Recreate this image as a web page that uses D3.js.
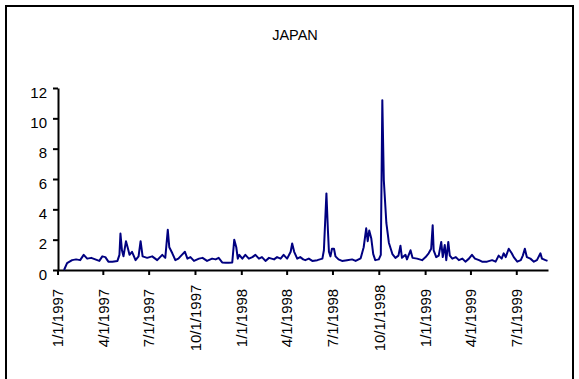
<!DOCTYPE html>
<html>
<head>
<meta charset="utf-8">
<script src="https://cdn.jsdelivr.net/npm/d3@7"></script>
<style>
  body { margin: 0; background: #fff; }
  svg { display: block; }
  text { font-family: "Liberation Sans", Arial, sans-serif; fill: #000; }
</style>
</head>
<body>
<svg id="chart" width="579" height="379"></svg>
<script>
const title = 'JAPAN';

const dates = [
    '1997-01-14', '1997-01-20', '1997-01-30', '1997-02-07', '1997-02-15', '1997-02-22', '1997-03-01', '1997-03-09',
    '1997-03-17', '1997-03-25', '1997-03-31', '1997-04-06', '1997-04-12', '1997-04-20', '1997-04-30', '1997-05-04',
    '1997-05-06', '1997-05-09', '1997-05-12', '1997-05-17', '1997-05-21', '1997-05-24', '1997-05-29', '1997-06-05',
    '1997-06-11', '1997-06-15', '1997-06-19', '1997-06-28', '1997-07-08', '1997-07-18', '1997-07-28', '1997-08-03',
    '1997-08-08', '1997-08-11', '1997-08-17', '1997-08-23', '1997-08-29', '1997-09-05', '1997-09-11', '1997-09-16',
    '1997-09-22', '1997-09-29', '1997-10-09', '1997-10-16', '1997-10-25', '1997-11-04', '1997-11-11', '1997-11-17',
    '1997-11-24', '1997-12-01', '1997-12-07', '1997-12-14', '1997-12-18', '1997-12-22', '1997-12-25', '1997-12-28',
    '1998-01-03', '1998-01-09', '1998-01-16', '1998-01-23', '1998-01-29', '1998-02-05', '1998-02-11', '1998-02-18',
    '1998-02-25', '1998-03-07', '1998-03-13', '1998-03-20', '1998-03-26', '1998-04-02', '1998-04-09', '1998-04-12',
    '1998-04-16', '1998-04-22', '1998-04-28', '1998-05-04', '1998-05-08', '1998-05-15', '1998-05-22', '1998-06-01',
    '1998-06-11', '1998-06-14', '1998-06-19', '1998-06-22', '1998-06-24', '1998-06-27', '1998-06-30', '1998-07-04',
    '1998-07-07', '1998-07-13', '1998-07-20', '1998-07-30', '1998-08-09', '1998-08-16', '1998-08-26', '1998-09-01',
    '1998-09-06', '1998-09-09', '1998-09-12', '1998-09-16', '1998-09-20', '1998-09-24', '1998-10-01', '1998-10-05',
    '1998-10-08', '1998-10-11', '1998-10-16', '1998-10-21', '1998-10-28', '1998-11-03', '1998-11-09', '1998-11-13',
    '1998-11-16', '1998-11-23', '1998-11-26', '1998-12-03', '1998-12-07', '1998-12-16', '1998-12-26', '1999-01-02',
    '1999-01-08', '1999-01-13', '1999-01-16', '1999-01-18', '1999-01-23', '1999-01-28', '1999-02-02', '1999-02-05',
    '1999-02-09', '1999-02-12', '1999-02-16', '1999-02-19', '1999-02-24', '1999-03-03', '1999-03-09', '1999-03-16',
    '1999-03-22', '1999-03-29', '1999-04-04', '1999-04-10', '1999-04-18', '1999-04-24', '1999-05-04', '1999-05-14',
    '1999-05-21', '1999-05-27', '1999-06-02', '1999-06-06', '1999-06-10', '1999-06-16', '1999-06-22', '1999-06-26',
    '1999-07-03', '1999-07-10', '1999-07-14', '1999-07-18', '1999-07-22', '1999-07-29', '1999-08-05', '1999-08-11',
    '1999-08-18', '1999-08-21', '1999-08-28', '1999-09-01'
];

const values = [
    0.0, 0.45, 0.65, 0.7, 0.65, 1.0, 0.75, 0.8,
    0.7, 0.6, 0.9, 0.85, 0.55, 0.55, 0.6, 1.0,
    2.4, 1.3, 0.9, 1.9, 1.4, 1.0, 1.2, 0.65,
    0.9, 1.9, 0.9, 0.8, 0.9, 0.65, 1.0, 0.8,
    2.65, 1.5, 1.1, 0.65, 0.75, 1.0, 1.2, 0.75,
    0.85, 0.6, 0.75, 0.8, 0.6, 0.75, 0.7, 0.8,
    0.5, 0.48, 0.48, 0.5, 2.0, 1.5, 0.75, 1.0,
    0.75, 1.0, 0.75, 0.85, 1.0, 0.75, 0.85, 0.6,
    0.8, 0.7, 0.85, 0.75, 1.0, 0.75, 1.2, 1.75,
    1.2, 0.75, 0.85, 0.7, 0.65, 0.75, 0.6, 0.65,
    0.75, 1.3, 5.05, 2.6, 1.2, 0.9, 1.4, 1.4,
    0.9, 0.7, 0.6, 0.65, 0.7, 0.6, 0.77, 1.5,
    2.75, 1.9, 2.6, 2.1, 1.05, 0.65, 0.7, 1.0,
    11.2, 5.9, 3.1, 1.8, 1.05, 0.8, 0.95, 1.6,
    0.8, 1.0, 0.7, 1.3, 0.8, 0.75, 0.65, 0.85,
    1.1, 1.4, 2.95, 1.3, 0.85, 0.95, 1.85, 0.85,
    1.65, 0.65, 1.85, 0.95, 0.75, 0.85, 0.65, 0.75,
    0.55, 0.75, 1.0, 0.75, 0.65, 0.55, 0.55, 0.65,
    0.55, 0.95, 0.75, 1.1, 0.85, 1.4, 1.1, 0.85,
    0.55, 0.65, 0.95, 1.4, 0.85, 0.75, 0.55, 0.65,
    1.1, 0.75, 0.65, 0.6
];

const xDomain = ['1997-01-01', '1999-09-02'];
const yTicks = [0, 2, 4, 6, 8, 10, 12];

const parse = d3.timeParse('%Y-%m-%d');
const data = dates.map((d, i) => ({ date: parse(d), value: values[i] }));

const svg = d3.select('#chart');

// outer frame (bottom edge runs off the picture)
svg.append('rect')
    .attr('x', 6).attr('y', 6)
    .attr('width', 567).attr('height', 420)
    .attr('fill', 'none')
    .attr('stroke', '#000')
    .attr('stroke-width', 2);

svg.append('text')
    .attr('x', 295).attr('y', 39.5)
    .attr('text-anchor', 'middle')
    .attr('font-size', '14.5px')
    .text(title);

const x = d3.scaleTime().domain(xDomain.map(parse)).range([57.5, 548]);
const y = d3.scaleLinear().domain([0, 12]).range([270, 88]);

// y axis
const yAxis = svg.append('g')
    .attr('transform', 'translate(58,0)')
    .call(d3.axisLeft(y).tickValues(yTicks).tickSize(5).tickPadding(6).tickSizeOuter(0));

yAxis.selectAll('text')
    .attr('font-size', '15px')
    .attr('dy', '0.6em')
    .attr('font-family', '"Liberation Sans", Arial, sans-serif');

// x axis
const xTicks = x.ticks(d3.timeMonth.every(3));
const fmt = d3.timeFormat('%-m/%-d/%Y');

const xAxis = svg.append('g')
    .attr('transform', 'translate(0,270)')
    .call(d3.axisBottom(x).tickValues(xTicks).tickFormat(fmt).tickSize(5).tickSizeOuter(0));

xAxis.selectAll('text')
    .attr('font-size', '15px')
    .attr('font-family', '"Liberation Sans", Arial, sans-serif')
    .attr('text-anchor', 'middle')
    .attr('transform', 'translate(0,48) rotate(-90)')
    .attr('x', 0).attr('y', 0)
    .attr('dy', '0.35em');

svg.selectAll('.domain, .tick line')
    .attr('stroke', '#000')
    .attr('stroke-width', 2);

// series
const line = d3.line()
    .x(d => x(d.date))
    .y(d => y(d.value));

svg.append('path')
    .datum(data)
    .attr('fill', 'none')
    .attr('stroke', '#000080')
    .attr('stroke-width', 2)
    .attr('stroke-linejoin', 'round')
    .attr('d', line);
</script>
</body>
</html>
